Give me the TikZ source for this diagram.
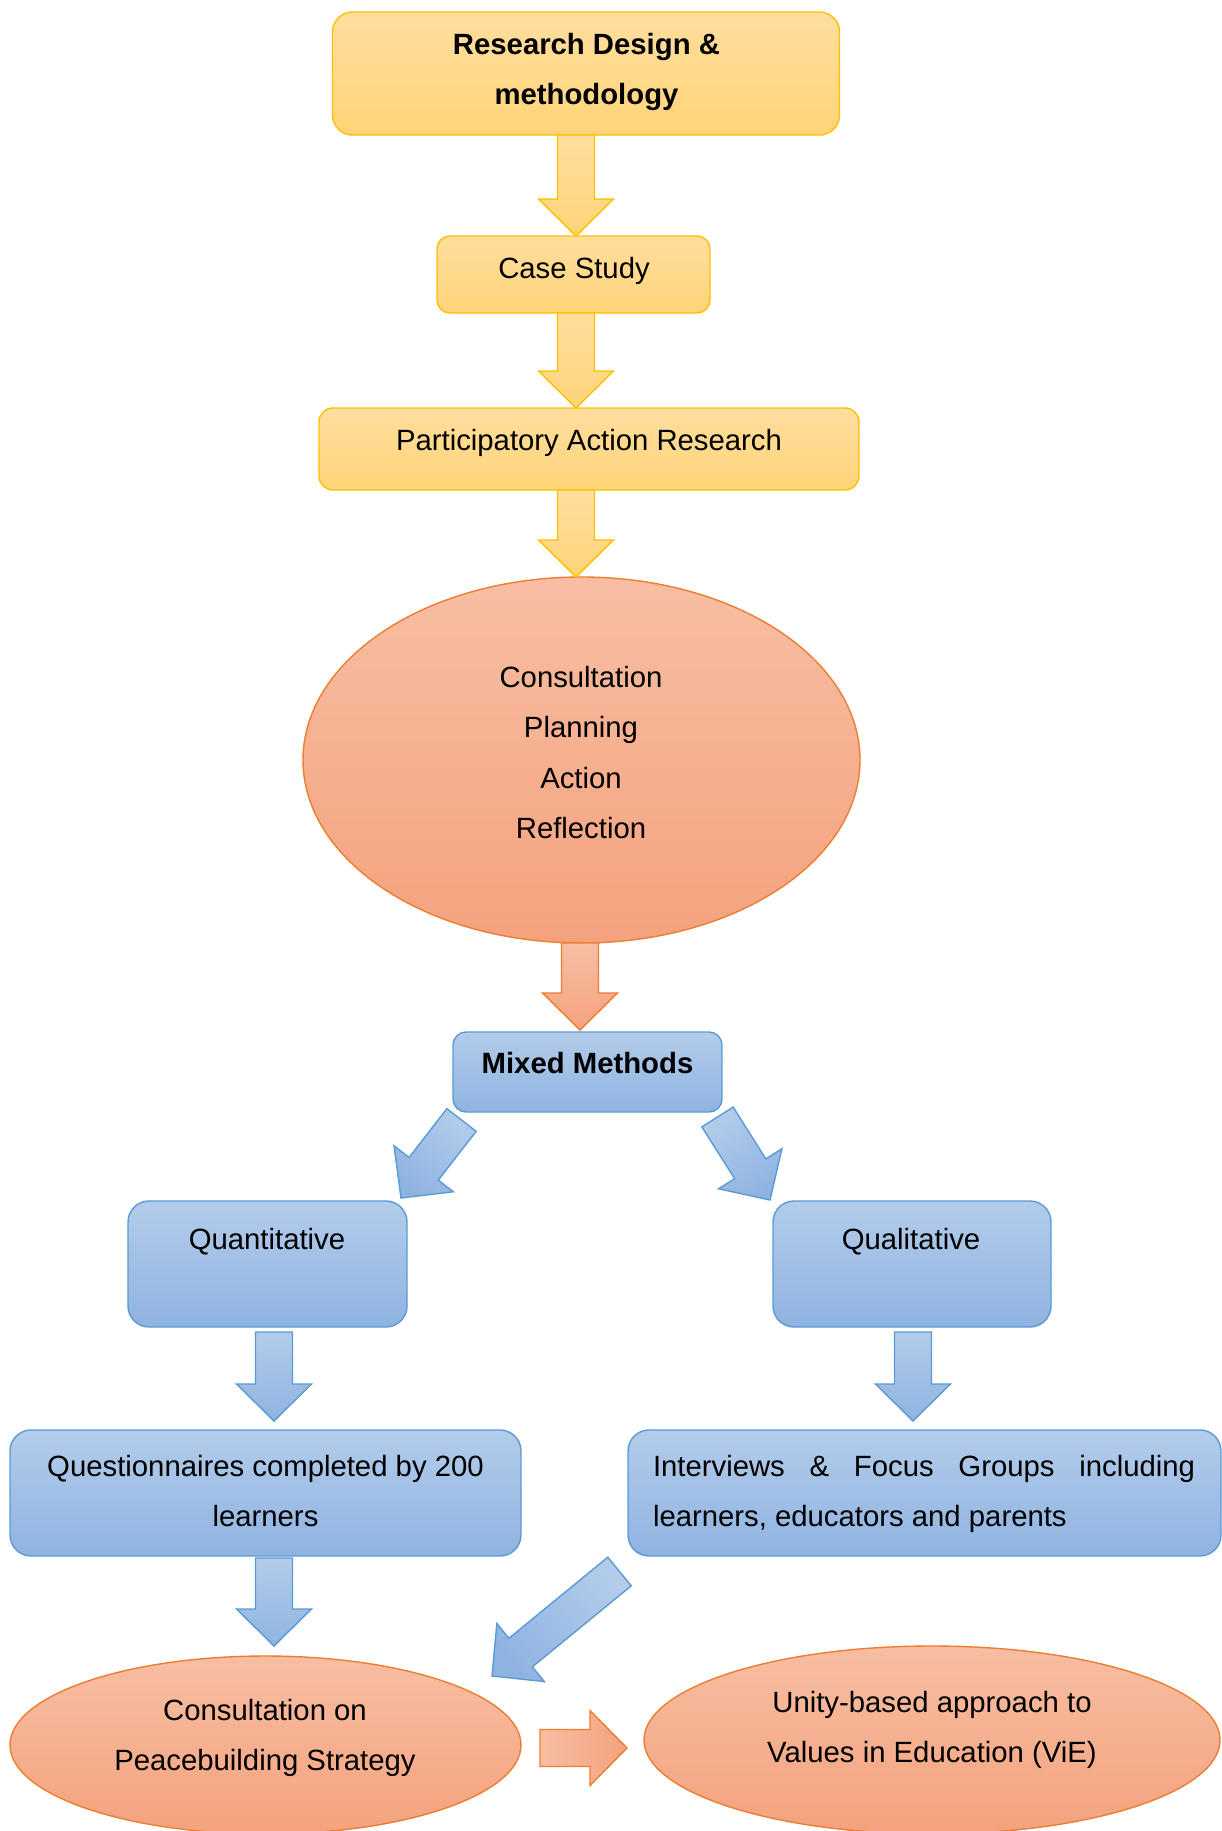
\documentclass[tikz,border=0pt]{standalone}
\usepackage{fontspec}
\setmainfont{Liberation Sans}
\usetikzlibrary{calc,shapes.geometric}

% palette
\definecolor{ytop}{HTML}{FFDE9E}
\definecolor{ybot}{HTML}{FFD478}
\definecolor{yline}{HTML}{FFC000}
\definecolor{otop}{HTML}{F7BEA3}
\definecolor{obot}{HTML}{F4A27D}
\definecolor{oline}{HTML}{ED7D31}
\definecolor{btop}{HTML}{B3CCEA}
\definecolor{bbot}{HTML}{8FB3E1}
\definecolor{bline}{HTML}{5B9BD5}

\tikzset{
  every node/.style={inner sep=0pt, outer sep=0pt},
  lbl/.style={anchor=base, font=\fontsize{29.3}{35}\selectfont},
  bfl/.style={anchor=base, font=\fontsize{29.3}{35}\selectfont\bfseries},
  lblw/.style={anchor=base west, font=\fontsize{29.3}{35}\selectfont},
  ybox/.style={rectangle, draw=yline, line width=1.4pt, top color=ytop, bottom color=ybot, rounded corners=#1},
  bbox/.style={rectangle, draw=bline, line width=1.4pt, top color=btop, bottom color=bbot, rounded corners=#1},
  obl/.style={ellipse, draw=oline, line width=1.4pt, top color=otop, bottom color=obot},
  yarrow/.style={draw=yline, line width=1.4pt, top color=ytop, bottom color=ybot, line join=miter},
  barrow/.style={draw=bline, line width=1.4pt, top color=btop, bottom color=bbot, line join=miter},
  oarrow/.style={draw=oline, line width=1.4pt, top color=otop, bottom color=obot, line join=miter},
}

% block arrow: style, tail, tip, shading angle
\newcommand\blockarrow[4]{%
  \coordinate (ba-c) at ($(#3)!37pt!(#2)$);
  \path[#1, shading angle=#4]
    ($(#2)!18.5pt!90:(#3)$) -- ($(ba-c)!18.5pt!90:(#3)$) -- ($(ba-c)!37.5pt!90:(#3)$)
    -- (#3)
    -- ($(ba-c)!37.5pt!-90:(#3)$) -- ($(ba-c)!18.5pt!-90:(#3)$) -- ($(#2)!18.5pt!-90:(#3)$)
    -- cycle;
}

\begin{document}
\begin{tikzpicture}[x=1pt, y=-1pt]
  \fill[white] (0,0) rectangle (1222,1831);
  \useasboundingbox (0,0) rectangle (1222,1831);

  % shapes
  \node[ybox=20pt, minimum width=507pt, minimum height=123pt] (rd) at (586,73.5) {};
  \node[ybox=13pt, minimum width=273pt, minimum height=77pt] (cs) at (573.5,274.5) {};
  \node[ybox=14pt, minimum width=540pt, minimum height=82pt] (par) at (589,449) {};
  \node[obl, minimum width=557pt, minimum height=366pt] (ell) at (581.5,760) {};
  \node[bbox=13pt, minimum width=269pt, minimum height=80pt] (mm) at (587.5,1072) {};
  \node[bbox=21pt, minimum width=279pt, minimum height=126pt] (qn) at (267.5,1264) {};
  \node[bbox=21pt, minimum width=278pt, minimum height=126pt] (ql) at (912,1264) {};
  \node[bbox=21pt, minimum width=511pt, minimum height=126pt] (qs) at (265.5,1493) {};
  \node[bbox=21pt, minimum width=593pt, minimum height=126pt] (iv) at (924.5,1493) {};
  \node[obl, minimum width=511pt, minimum height=178pt] (cons) at (265.5,1745) {};
  \node[obl, minimum width=576pt, minimum height=188pt] (un) at (932,1740) {};

  % texts
  \node[bfl] (rd-a) at (586.5,54) {Research Design \&};
  \node[bfl] (rd-b) at (586.5,104) {methodology};
  \node[lbl] (cs-a) at (574,278) {Case Study};
  \node[lbl] (par-a) at (589,450) {Participatory Action Research};
  \node[lbl] (ell-a) at (581,687) {Consultation};
  \node[lbl] (ell-b) at (581,737) {Planning};
  \node[lbl] (ell-c) at (581,788) {Action};
  \node[lbl] (ell-d) at (581,838) {Reflection};
  \node[bfl] (mm-a) at (587.5,1073) {Mixed Methods};
  \node[lbl] (qn-a) at (267,1249) {Quantitative};
  \node[lbl] (ql-a) at (911,1249) {Qualitative};
  \node[lbl] (qs-a) at (265.5,1476) {Questionnaires completed by 200};
  \node[lbl] (qs-b) at (265.5,1526) {learners};
  \node[lblw] (iv-a) at (653,1476) {\makebox[542pt][s]{Interviews \& Focus Groups including}};
  \node[lblw] (iv-b) at (653,1526) {learners, educators and parents};
  \node[lbl] (cons-a) at (265,1720) {Consultation on};
  \node[lbl] (cons-b) at (265,1770) {Peacebuilding Strategy};
  \node[lbl] (un-a) at (932,1712) {Unity-based approach to};
  \node[lbl] (un-b) at (932,1762) {Values in Education (ViE)};

  % arrow ends
  \coordinate (a1s) at ([xshift=-10pt]rd.south);
  \coordinate (a1e) at ([xshift=2.5pt]cs.north);
  \coordinate (a2s) at ([xshift=2.5pt]cs.south);
  \coordinate (a2e) at ([xshift=-13pt]par.north);
  \coordinate (a3s) at ([xshift=-13pt]par.south);
  \coordinate (a3e) at ([xshift=-5.5pt]ell.north);
  \coordinate (a4s) at ([xshift=-1.5pt]ell.south);
  \coordinate (a4e) at ([shift={(-7.5,-2)}]mm.north);
  \coordinate (a5s) at ([shift={(8.5,8)}]mm.south west);
  \coordinate (a5e) at ([shift={(-6,-3)}]qn.north east);
  \coordinate (a6s) at ([shift={(-4.5,5)}]mm.south east);
  \coordinate (a6e) at ([shift={(-3,-1)}]ql.north west);
  \coordinate (a7s) at ([shift={(6.5,5)}]qn.south);
  \coordinate (a7e) at ([shift={(8.5,-9)}]qs.north);
  \coordinate (a8s) at ([shift={(1,5)}]ql.south);
  \coordinate (a8e) at ([shift={(-11.5,-9)}]iv.north);
  \coordinate (a9s) at ([shift={(8.5,2)}]qs.south);
  \coordinate (a9e) at ([shift={(8.5,-10)}]cons.north);
  \coordinate (a10s) at ([shift={(-8.5,15.5)}]iv.south west);
  \coordinate (a10e) at ([shift={(-29,-69)}]cons.east);
  \coordinate (a11s) at ([shift={(19,3)}]cons.east);
  \coordinate (a11e) at ([shift={(-17,8)}]un.west);

  % block arrows
  \blockarrow{yarrow}{a1s}{a1e}{0}
  \blockarrow{yarrow}{a2s}{a2e}{0}
  \blockarrow{yarrow}{a3s}{a3e}{0}
  \blockarrow{oarrow}{a4s}{a4e}{0}
  \blockarrow{barrow}{a5s}{a5e}{-37.6}
  \blockarrow{barrow}{a6s}{a6e}{32.2}
  \blockarrow{barrow}{a7s}{a7e}{0}
  \blockarrow{barrow}{a8s}{a8e}{0}
  \blockarrow{barrow}{a9s}{a9e}{0}
  \blockarrow{barrow}{a10s}{a10e}{-50.5}
  \blockarrow{oarrow}{a11s}{a11e}{90}
\end{tikzpicture}
\end{document}
